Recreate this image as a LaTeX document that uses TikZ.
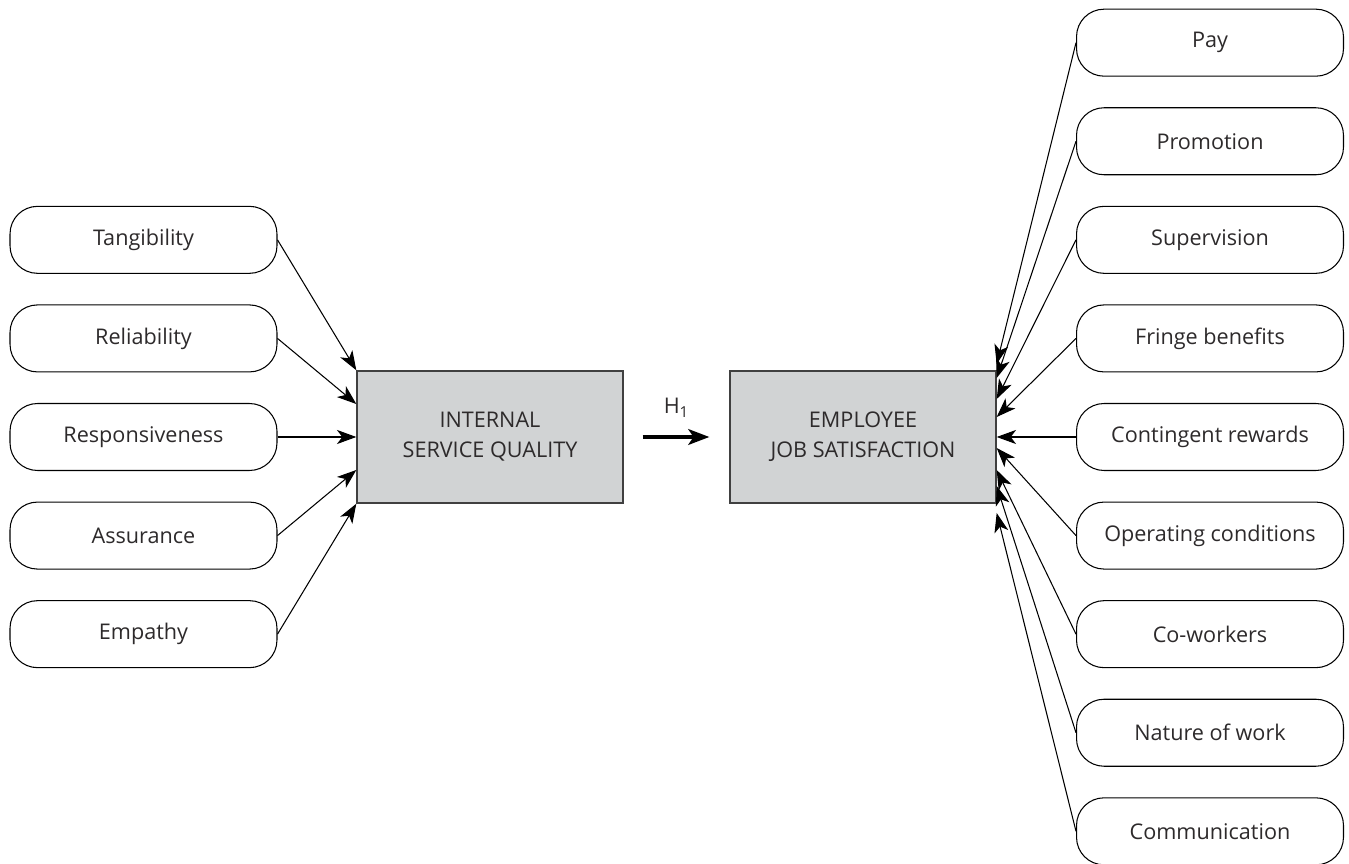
\documentclass[tikz,border=0pt]{standalone}
\usepackage{fontspec}
\setmainfont{Open Sans}
\usetikzlibrary{arrows.meta}
\definecolor{boxgray}{RGB}{209,211,212}
\definecolor{inkgray}{RGB}{45,42,43}

\begin{document}
\begin{tikzpicture}[x=0.02cm,y=-0.02cm,->,>={Stealth[length=11pt,width=8pt,inset=3pt]},
      node distance=1.972cm,line width=0.6pt,
      every node/.style={font=\fontsize{12.3}{17}\selectfont,text=inkgray},
      factor/.style={draw,->=,rounded corners=0.55cm,minimum width=5.34cm,minimum height=1.34cm,inner sep=0pt},
      construct/.style={draw=black!75,fill=boxgray,line width=0.8pt,minimum width=5.32cm,minimum height=2.64cm,align=center}]

    \useasboundingbox (0,0) rectangle (1349,864);

    % central constructs
    \node[construct] (isq) at (490,437) {INTERNAL\\SERVICE QUALITY};
    \node[construct] (ejs) at (863,437) {EMPLOYEE\\JOB SATISFACTION};

    % service quality dimensions
    \node[factor] (resp) at (143.5,437) {Responsiveness};
    \node[factor] (rel) [above of=resp] {Reliability};
    \node[factor] (tang) [above of=rel] {Tangibility};
    \node[factor] (assur) [below of=resp] {Assurance};
    \node[factor] (emp) [below of=assur] {Empathy};

    % job satisfaction facets
    \node[factor] (cont) at (1210,437) {Contingent rewards};
    \node[factor] (fringe) [above of=cont] {Fringe benefits};
    \node[factor] (superv) [above of=fringe] {Supervision};
    \node[factor] (promo) [above of=superv] {Promotion};
    \node[factor] (pay) [above of=promo] {Pay};
    \node[factor] (oper) [below of=cont] {Operating conditions};
    \node[factor] (cowork) [below of=oper] {Co-workers};
    \node[factor] (nature) [below of=cowork] {Nature of work};
    \node[factor] (comm) [below of=nature] {Communication};

    \path
    (tang.east) edge (isq.north west)
    (rel.east) edge ([yshift=0.66cm]isq.west)
    (resp.east) edge (isq.west)
    (assur.east) edge ([yshift=-0.66cm]isq.west)
    (emp.east) edge (isq.south west)
    ;

    \path
    (pay.west) edge ([yshift=1.46cm]ejs.east)
    (promo.west) edge ([yshift=1.18cm]ejs.east)
    (superv.west) edge ([yshift=0.76cm]ejs.east)
    (fringe.west) edge ([yshift=0.4cm]ejs.east)
    (cont.west) edge (ejs.east)
    (oper.west) edge ([yshift=-0.22cm]ejs.east)
    (cowork.west) edge ([yshift=-0.66cm]ejs.east)
    (nature.west) edge ([yshift=-0.98cm]ejs.east)
    (comm.west) edge ([yshift=-1.52cm]ejs.east)
    ;

    \path (isq) edge [line width=1.8pt,>={Stealth[length=12pt,width=9pt,inset=3pt]},
      shorten <=0.38cm,shorten >=0.4cm]
      node [above=0.25cm] {H\textsubscript{1}} (ejs);
  \end{tikzpicture}
\end{document}
